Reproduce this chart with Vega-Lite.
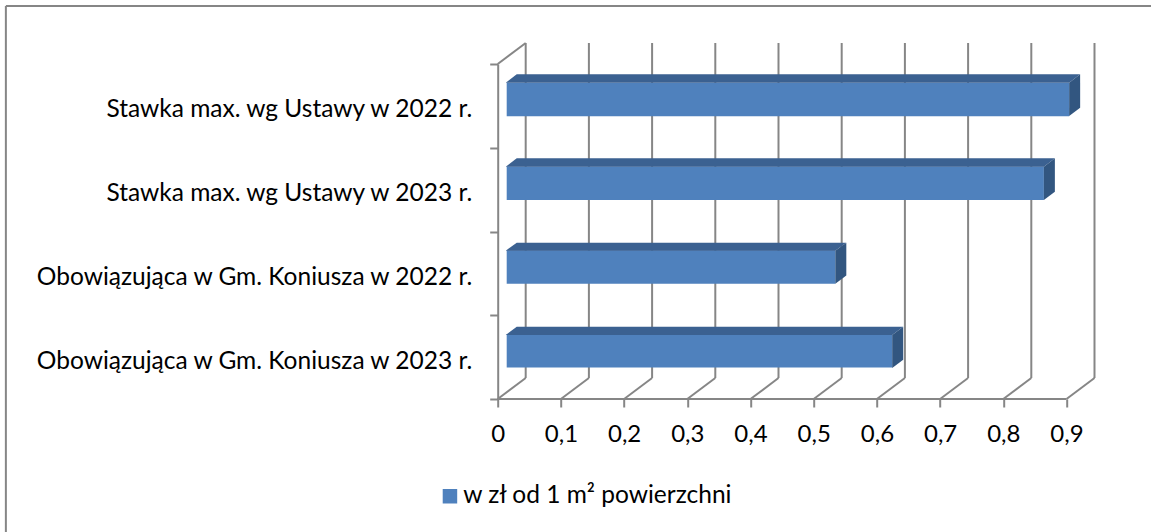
{"$schema":"https://vega.github.io/schema/vega-lite/v6.json","width":598,"height":356,"autosize":"none","padding":{"left":497.7,"top":43,"right":55.3,"bottom":133},"background":"white","config":{"view":{"stroke":null},"font":"Lato"},
"datasets":{"bars":[{"kategoria":"Stawka max. wg Ustawy w 2022 r.","wartosc":0.89,"seria":"w zł od 1 m² powierzchni"},{"kategoria":"Stawka max. wg Ustawy w 2023 r.","wartosc":0.85,"seria":"w zł od 1 m² powierzchni"},{"kategoria":"Obowiązująca w Gm. Koniusza w 2022 r.","wartosc":0.52,"seria":"w zł od 1 m² powierzchni"},{"kategoria":"Obowiązująca w Gm. Koniusza w 2023 r.","wartosc":0.61,"seria":"w zł od 1 m² powierzchni"}],
"faces":[
{"bar":"1","face":"top","x":0.0127,"y":3.777,"y2":3.777},{"bar":"1","face":"top","x":0.0301,"y":3.877,"y2":3.777},{"bar":"1","face":"top","x":0.9042,"y":3.877,"y2":3.777},{"bar":"1","face":"top","x":0.9216,"y":3.877,"y2":3.877},
{"bar":"2","face":"top","x":0.0127,"y":2.774,"y2":2.774},{"bar":"2","face":"top","x":0.0301,"y":2.874,"y2":2.774},{"bar":"2","face":"top","x":0.8642,"y":2.874,"y2":2.774},{"bar":"2","face":"top","x":0.8816,"y":2.874,"y2":2.874},
{"bar":"3","face":"top","x":0.0127,"y":1.771,"y2":1.771},{"bar":"3","face":"top","x":0.0301,"y":1.867,"y2":1.771},{"bar":"3","face":"top","x":0.5342,"y":1.867,"y2":1.771},{"bar":"3","face":"top","x":0.5516,"y":1.867,"y2":1.867},
{"bar":"4","face":"top","x":0.0127,"y":0.764,"y2":0.764},{"bar":"4","face":"top","x":0.0301,"y":0.864,"y2":0.764},{"bar":"4","face":"top","x":0.6242,"y":0.864,"y2":0.764},{"bar":"4","face":"top","x":0.6416,"y":0.864,"y2":0.864},
{"bar":"1s","face":"side","x":0.9042,"y":3.777,"y2":3.379},{"bar":"1s","face":"side","x":0.9216,"y":3.877,"y2":3.478},
{"bar":"2s","face":"side","x":0.8642,"y":2.774,"y2":2.376},{"bar":"2s","face":"side","x":0.8816,"y":2.874,"y2":2.475},
{"bar":"3s","face":"side","x":0.5342,"y":1.771,"y2":1.376},{"bar":"3s","face":"side","x":0.5516,"y":1.867,"y2":1.475},
{"bar":"4s","face":"side","x":0.6242,"y":0.764,"y2":0.37},{"bar":"4s","face":"side","x":0.6416,"y":0.864,"y2":0.469}],
"grid":[
{"x":0.0443,"x2":0.0443,"y":0.2507,"y2":4.2507},{"x":0.1443,"x2":0.1443,"y":0.2507,"y2":4.2507},{"x":0.2443,"x2":0.2443,"y":0.2507,"y2":4.2507},{"x":0.3443,"x2":0.3443,"y":0.2507,"y2":4.2507},{"x":0.4443,"x2":0.4443,"y":0.2507,"y2":4.2507},{"x":0.5443,"x2":0.5443,"y":0.2507,"y2":4.2507},{"x":0.6443,"x2":0.6443,"y":0.2507,"y2":4.2507},{"x":0.7443,"x2":0.7443,"y":0.2507,"y2":4.2507},{"x":0.8443,"x2":0.8443,"y":0.2507,"y2":4.2507},{"x":0.9443,"x2":0.9443,"y":0.2507,"y2":4.2507},
{"x":0,"x2":0.0443,"y":0,"y2":0.2507},{"x":0.1,"x2":0.1443,"y":0,"y2":0.2507},{"x":0.2,"x2":0.2443,"y":0,"y2":0.2507},{"x":0.3,"x2":0.3443,"y":0,"y2":0.2507},{"x":0.4,"x2":0.4443,"y":0,"y2":0.2507},{"x":0.5,"x2":0.5443,"y":0,"y2":0.2507},{"x":0.6,"x2":0.6443,"y":0,"y2":0.2507},{"x":0.7,"x2":0.7443,"y":0,"y2":0.2507},{"x":0.8,"x2":0.8443,"y":0,"y2":0.2507},{"x":0.9,"x2":0.9443,"y":0,"y2":0.2507},
{"x":0,"x2":0.0443,"y":4,"y2":4.2507},{"x":0,"x2":0.9,"y":0,"y2":0},
{"x":-0.7782,"x2":1.05,"y":4.693,"y2":4.693},{"x":-0.7782,"x2":-0.7782,"y":-1.65,"y2":4.693}]},
"layer":[
{"data":{"name":"grid"},"mark":{"type":"rule","color":"#868686","strokeWidth":2,"clip":false},"encoding":{"x":{"field":"x","type":"quantitative","scale":{"domain":[0,0.9462],"nice":false,"zero":false},"axis":{"values":[0,0.1,0.2,0.3,0.4,0.5,0.6,0.7,0.8,0.9],"title":null,"grid":false,"domain":false,"tickColor":"#868686","tickWidth":2,"tickSize":8,"labelFontSize":24,"labelFont":"Lato","labelColor":"#000000","labelPadding":15,"labelFlush":false,"labelExpr":"replace(format(datum.value,'.1~f'),'.',',')"}},"x2":{"field":"x2"},"y":{"field":"y","type":"quantitative","scale":{"domain":[0,4.2507],"nice":false,"zero":false},"axis":null},"y2":{"field":"y2"}}},
{"data":{"name":"bars"},"mark":{"type":"bar","size":33.5,"xOffset":9,"x2Offset":7.5,"yOffset":-6.5},"encoding":{"x":{"field":"wartosc","type":"quantitative"},"y":{"field":"kategoria","type":"nominal","sort":null,"scale":{"range":[21,356],"paddingInner":0,"paddingOuter":0},"axis":{"title":null,"domainColor":"#868686","domainWidth":2,"tickColor":"#868686","tickWidth":2,"tickSize":8,"tickBand":"extent","labelFontSize":24.5,"labelFont":"Lato","labelColor":"#000000","labelPadding":18,"labelOffset":4,"labelLimit":480}},"color":{"field":"seria","type":"nominal","scale":{"range":["#4F81BD"]},"legend":{"title":null,"orient":"none","legendX":-60,"legendY":441,"symbolType":"square","symbolSize":210,"symbolStrokeWidth":0,"labelOffset":1,"labelFontSize":24.5,"labelFont":"Lato","labelColor":"#000000","labelLimit":400}}}},
{"data":{"name":"faces"},"transform":[{"filter":"datum.face==='top'"}],"mark":{"type":"area","color":"#3B6191","clip":false},"encoding":{"x":{"field":"x","type":"quantitative"},"y":{"field":"y","type":"quantitative","scale":{"domain":[0,4.2507],"nice":false,"zero":false},"axis":null},"y2":{"field":"y2"},"detail":{"field":"bar"}}},
{"data":{"name":"faces"},"transform":[{"filter":"datum.face==='side'"}],"mark":{"type":"area","color":"#325680","clip":false},"encoding":{"x":{"field":"x","type":"quantitative"},"y":{"field":"y","type":"quantitative","scale":{"domain":[0,4.2507],"nice":false,"zero":false},"axis":null},"y2":{"field":"y2"},"detail":{"field":"bar"}}}
],"resolve":{"scale":{"y":"independent"}}}
